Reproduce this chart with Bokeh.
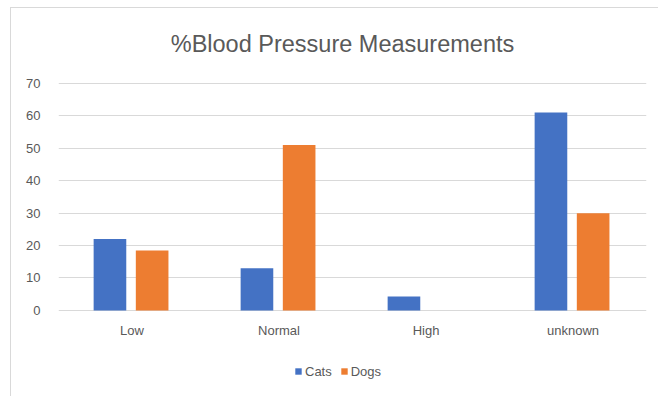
from bokeh.plotting import figure
from bokeh.models import ColumnDataSource, Range1d, FactorRange, Legend, LegendItem, Label
from bokeh.transform import dodge
from bokeh.embed import file_html
from bokeh.resources import INLINE

categories = ["Low", "Normal", "High", "unknown"]
cats = [22, 13, 4.3, 61]
dogs = [18.5, 51, 0, 30]
y_ticks = [0, 10, 20, 30, 40, 50, 60, 70]
title_text = "%Blood Pressure Measurements"

FONT = "Liberation Sans"
TXT = "#595959"

source = ColumnDataSource(data=dict(cat=categories, cats=cats, dogs=dogs))

# the frame spans the whole card so the title, category labels and legend
# all sit inside it; grid lines are only drawn at the 0..70 ticks
p = figure(
    x_range=FactorRange(*categories, range_padding=0),
    y_range=Range1d(-25, 93.1),
    width=648, height=389,
    output_backend="svg", toolbar_location=None,
    min_border_left=47, min_border_right=13,
    min_border_top=0, min_border_bottom=6,
)
p.margin = (7, 0, 0, 10)
p.styles = {"border-left": "1px solid #d9d9d9", "border-top": "1px solid #d9d9d9"}

r1 = p.vbar(x=dodge("cat", -0.15, range=p.x_range), top="cats", width=0.222,
            source=source, fill_color="#4472C4", line_color=None)
r2 = p.vbar(x=dodge("cat", 0.137, range=p.x_range), top="dogs", width=0.222,
            source=source, fill_color="#ED7D31", line_color=None)

p.add_layout(Label(x=1.932, y=82.3, text=title_text,
                   text_font=FONT, text_font_size="23.5px", text_color=TXT,
                   text_align="center", text_baseline="middle"))

p.outline_line_color = None
p.xgrid.grid_line_color = None
p.ygrid.grid_line_color = "#d9d9d9"
p.ygrid.grid_line_width = 1
p.yaxis.ticker = y_ticks
p.xaxis.fixed_location = 0

for ax in (p.xaxis[0], p.yaxis[0]):
    ax.axis_line_color = None
    ax.major_tick_line_color = None
    ax.minor_tick_line_color = None
    ax.major_label_text_font = FONT
    ax.major_label_text_color = TXT
    ax.major_label_text_font_size = "13px"
p.yaxis.major_label_standoff = 12
p.xaxis.major_label_standoff = 7

legend = Legend(items=[LegendItem(label="Cats", renderers=[r1]),
                       LegendItem(label="Dogs", renderers=[r2])],
                orientation="horizontal", location=(236, 12),
                background_fill_alpha=0, border_line_color=None,
                label_text_font=FONT, label_text_color=TXT,
                label_text_font_size="13px", glyph_width=8, glyph_height=8,
                label_height=16, spacing=8, label_standoff=3, padding=2,
                margin=0)
p.add_layout(legend, "center")

open("out.html", "w").write(file_html(p, INLINE))
